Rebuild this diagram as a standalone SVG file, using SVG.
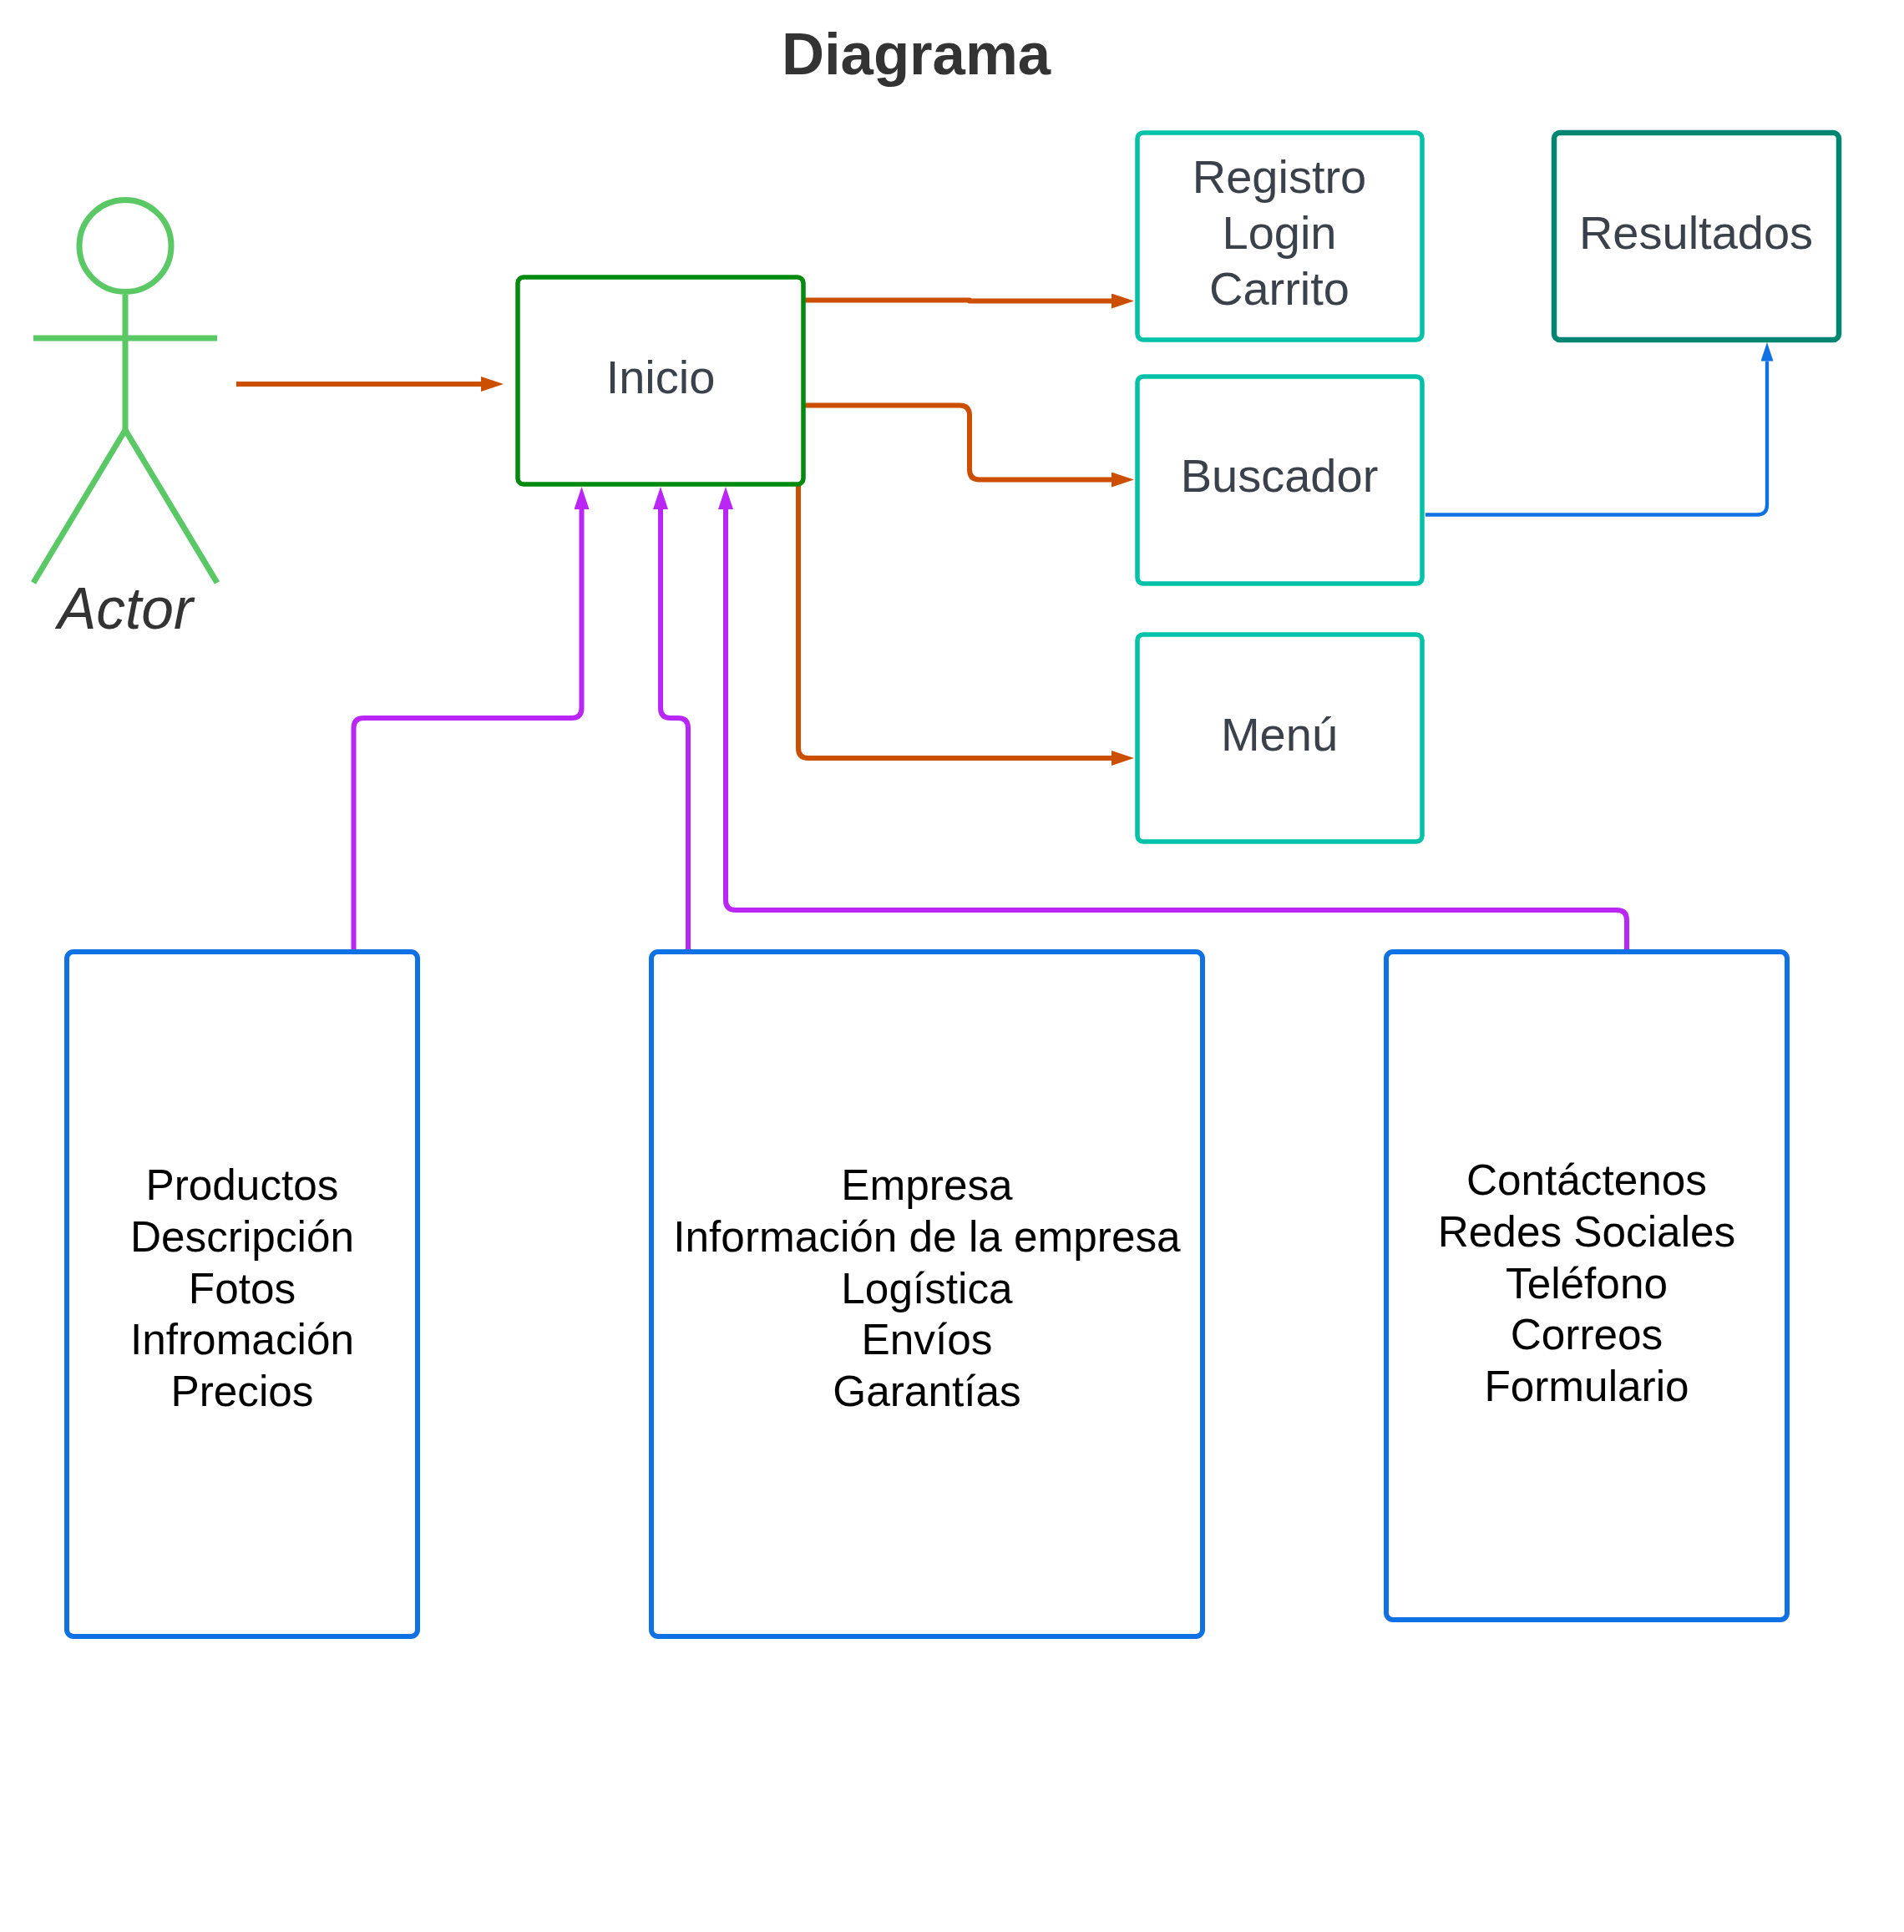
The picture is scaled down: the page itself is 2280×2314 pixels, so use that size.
<svg xmlns="http://www.w3.org/2000/svg" width="2280" height="2314" viewBox="0 0 2280 2314">
<style>
text{font-family:"Liberation Sans",Arial,sans-serif;text-anchor:middle}
.box{fill:#fff;stroke-width:5.500}
.blue{stroke:#1071e5;stroke-width:6}
.t{font-size:56px;fill:#3a414a}
.b{font-size:51.3px;fill:#000}
.act{fill:none;stroke:#5ac864;stroke-width:7}
.c{fill:none;stroke-linejoin:round}
.o{stroke:#cc4e00;stroke-width:6}
.p{stroke:#b926f5;stroke-width:6}
.l{stroke:#1071e5;stroke-width:4.300}
</style>
<defs>
<marker id="ao" markerUnits="userSpaceOnUse" markerWidth="30" markerHeight="20" refX="0" refY="9" orient="auto"><path d="M0 0L27 9L0 18Z" fill="#cc4e00"/></marker>
<marker id="ap" markerUnits="userSpaceOnUse" markerWidth="30" markerHeight="20" refX="0" refY="9" orient="auto"><path d="M0 0L27 9L0 18Z" fill="#b926f5"/></marker>
<marker id="al" markerUnits="userSpaceOnUse" markerWidth="26" markerHeight="16" refX="0" refY="7.500" orient="auto"><path d="M0 0L22.500 7.500L0 15Z" fill="#1071e5"/></marker>
</defs>
<rect width="2280" height="2314" fill="#fff"/>
<text id="title" x="1097" y="89" font-size="70.700" font-weight="700" fill="#333">Diagrama</text>
<g id="connectors" class="c">
<path class="c o" marker-end="url(#ao)" d="M283 460H576"/>
<path class="c o" marker-end="url(#ao)" d="M962 359.500H1161V360.500H1331"/>
<path class="c o" marker-end="url(#ao)" d="M962 485.500H1149Q1161 485.500 1161 497.500V562.500Q1161 574.500 1173 574.500H1331"/>
<path class="c o" marker-end="url(#ao)" d="M956 580V896Q956 908 968 908H1331"/>
<path class="c l" marker-end="url(#al)" d="M1707 616.500H2104Q2116 616.500 2116 604.500V432.500"/>
<path class="c p" marker-end="url(#ap)" d="M423.500 1140V872Q423.500 860 435.500 860H684.500Q696.500 860 696.500 848V610"/>
<path class="c p" marker-end="url(#ap)" d="M824 1140V872Q824 860 812 860H803Q791 860 791 848V610"/>
<path class="c p" marker-end="url(#ap)" d="M1948 1140V1102Q1948 1090 1936 1090H881Q869 1090 869 1078V610"/>
</g>
<g id="actor">
<circle class="act" cx="150" cy="294.500" r="55"/>
<path class="act" d="M150 353V515"/>
<path class="act" d="M40 405H260"/>
<path class="act" d="M40 698L150 515L260 698"/>
<text x="150" y="753" font-size="69.500" font-style="italic" fill="#333">Actor</text>
</g>
<g id="inicio"><rect class="box" x="620" y="332" width="342" height="248" rx="7" stroke="#008a0e"/><text class="t" x="791" y="471">Inicio</text></g>
<g id="registro"><rect class="box" x="1362" y="159" width="341" height="248" rx="7" stroke="#00c2a8"/><text class="t" x="1532" y="231">Registro</text><text class="t" x="1532" y="298">Login</text><text class="t" x="1532" y="365">Carrito</text></g>
<g id="buscador"><rect class="box" x="1362" y="451" width="341" height="248" rx="7" stroke="#00c2a8"/><text class="t" x="1532" y="589">Buscador</text></g>
<g id="menu"><rect class="box" x="1362" y="760" width="341" height="248" rx="7" stroke="#00c2a8"/><text class="t" x="1532" y="899">Menú</text></g>
<g id="resultados"><rect class="box" x="1861" y="159" width="341" height="248" rx="7" stroke="#008573" style="stroke-width:6.500"/><text class="t" x="2031" y="298">Resultados</text></g>
<g id="productos"><rect class="box blue" x="80" y="1140" width="420" height="820" rx="8"/><text class="b" x="290" y="1437">Productos</text><text class="b" x="290" y="1499">Descripción</text><text class="b" x="290" y="1561">Fotos</text><text class="b" x="290" y="1622">Infromación</text><text class="b" x="290" y="1684">Precios</text></g>
<g id="empresa"><rect class="box blue" x="780" y="1140" width="660" height="820" rx="8"/><text class="b" x="1110" y="1437">Empresa</text><text class="b" x="1110" y="1499">Información de la empresa</text><text class="b" x="1110" y="1561">Logística</text><text class="b" x="1110" y="1622">Envíos</text><text class="b" x="1110" y="1684">Garantías</text></g>
<g id="contacto"><rect class="box blue" x="1660" y="1140" width="480" height="800" rx="8"/><text class="b" x="1900" y="1431">Contáctenos</text><text class="b" x="1900" y="1493">Redes Sociales</text><text class="b" x="1900" y="1555">Teléfono</text><text class="b" x="1900" y="1616">Correos</text><text class="b" x="1900" y="1678">Formulario</text></g>
</svg>
